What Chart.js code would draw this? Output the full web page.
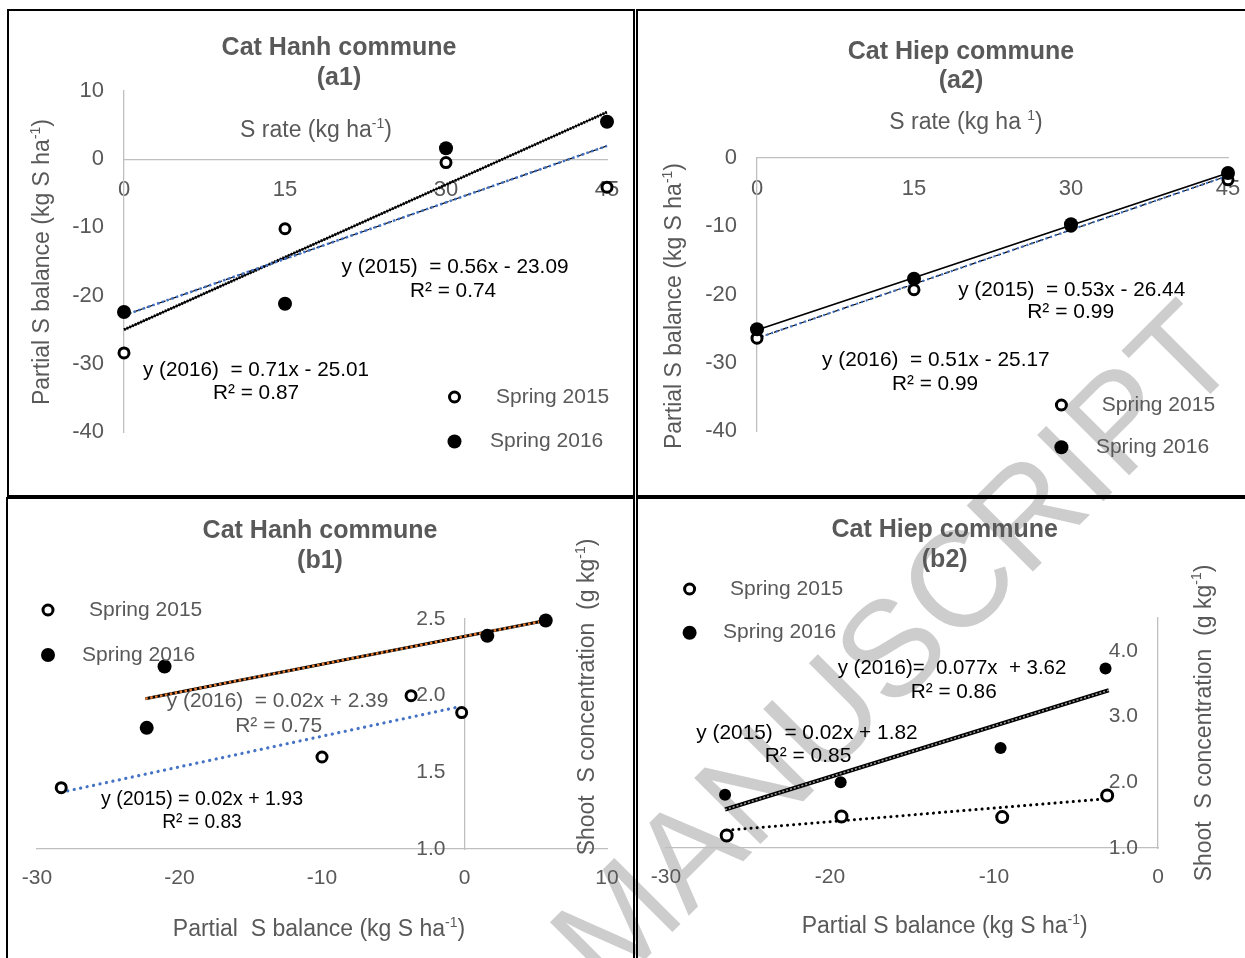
<!DOCTYPE html>
<html><head><meta charset="utf-8">
<script src="https://cdn.jsdelivr.net/npm/chart.js@4.4.1/dist/chart.umd.min.js"></script>
<style>
html,body{margin:0;padding:0;width:1245px;height:958px;overflow:hidden;background:#fff;}
#wm{position:absolute;left:893px;top:645px;transform:translate(-50%,-50%) rotate(-45deg);font-family:"Liberation Sans",Arial,sans-serif;font-size:136px;color:#cdcdcd;white-space:nowrap;z-index:0;line-height:1;}
.panel{position:absolute;border:2px solid #000;box-sizing:border-box;z-index:1;overflow:hidden;}
.panel canvas{position:absolute;left:-40px;top:0;}
</style></head>
<body>
<div id="wm">MANUSCRIPT</div>
<div class="panel" style="left:7px;top:9px;width:628px;height:488px"><canvas id="c1" width="704" height="484"></canvas></div>
<div class="panel" style="left:636px;top:9px;width:620px;height:488px"><canvas id="c2" width="696" height="484"></canvas></div>
<div class="panel" style="left:6px;top:497px;width:629px;height:470px"><canvas id="c3" width="705" height="466"></canvas></div>
<div class="panel" style="left:636px;top:497px;width:620px;height:470px"><canvas id="c4" width="696" height="466"></canvas></div>
<script>
// ---------------- DATA ----------------
const sRate = [0, 15, 30, 45];
const sRateTicks = [0, 15, 30, 45];
const balanceTicksA1 = [-40, -30, -20, -10, 0, 10];
const balanceTicksA2 = [-40, -30, -20, -10, 0];
const balanceTicksB1 = [-30, -20, -10, 0, 10];
const balanceTicksB2 = [-30, -20, -10, 0];
const concTicksB1 = [1.0, 1.5, 2.0, 2.5];
const concTicksB2 = [1.0, 2.0, 3.0, 4.0];

// (a1) Cat Hanh: partial S balance vs S rate
const a1Bal2015 = [-28.4, -10.2, -0.5, -4.1];
const a1Bal2016 = [-22.4, -21.2, 1.6, 5.5];
const a1TrendX = [0, 45];
const a1Trend2015 = [-22.9, 1.95];
const a1Trend2016 = [-25.0, 6.9];

// (a2) Cat Hiep: partial S balance vs S rate
const a2Bal2015 = [-26.4, -19.3, -10.0, -3.2];
const a2Bal2016 = [-25.1, -17.7, -9.7, -2.2];
const a2TrendX = [0, 45];
const a2Trend2015 = [-26.4, -2.6];
const a2Trend2016 = [-25.2, -2.2];

// (b1) Cat Hanh: shoot S concentration vs partial S balance
const b1Bal2015 = [-28.3, -10.0, -3.75, -0.2];
const b1Conc2015 = [1.40, 1.60, 2.00, 1.89];
const b1Bal2016 = [-22.3, -21.05, 1.6, 5.7];
const b1Conc2016 = [1.79, 2.19, 2.39, 2.49];
const b1TrendX2015 = [-28.3, -0.25];
const b1TrendY2015 = [1.37, 1.93];
const b1TrendX2016 = [-22.4, 5.7];
const b1TrendY2016 = [1.98, 2.49];

// (b2) Cat Hiep: shoot S concentration vs partial S balance
const b2Bal2015 = [-26.3, -19.3, -9.5, -3.1];
const b2Conc2015 = [1.19, 1.48, 1.47, 1.80];
const b2Bal2016 = [-26.4, -19.35, -9.6, -3.2];
const b2Conc2016 = [1.81, 2.00, 2.52, 3.73];
const b2TrendX2015 = [-26.3, -3.1];
const b2TrendY2015 = [1.27, 1.75];
const b2TrendX2016 = [-26.4, -3.0];
const b2TrendY2016 = [1.585, 3.40];

// ---------------- STYLE / HELPERS ----------------
const FAM = '"Liberation Sans", Arial, Helvetica, sans-serif';
Chart.defaults.font.family = FAM;
Chart.defaults.color = '#595959';
const GRAY = '#595959';
const AXIS = '#bfbfbf';
const BLUE = '#4472C4';
const ORANGE = '#ED7D31';

const fmtInt = v => String(v);
const fmt1 = v => Number(v).toFixed(1);

function axis(min, max, ticks, pos, pad, size, fmt, showBorder, showLabels) {
  return {
    type: 'linear', min, max, position: pos,
    grid: {display: false, drawTicks: false},
    border: {display: showBorder, color: AXIS, width: 1.3},
    afterBuildTicks: s => { s.ticks = ticks.map(v => ({value: v})); },
    ticks: {display: showLabels, padding: pad, color: GRAY, font: {size}, maxRotation: 0, minRotation: 0,
      autoSkip: false, callback: v => fmt(v)}
  };
}
function pts(xs, ys) { return xs.map((x, i) => ({x, y: ys[i]})); }
function ptSet(xs, ys, open, r) {
  return {type: 'scatter', data: pts(xs, ys), showLine: false, pointRadius: r, pointHoverRadius: r,
    pointBorderWidth: open ? 3 : 0, pointBackgroundColor: open ? '#fff' : '#000', pointBorderColor: '#000',
    clip: false, order: 0, yAxisID: 'y'};
}
function lnSet(xs, ys, color, width, dash, cap) {
  return {type: 'line', data: pts(xs, ys), showLine: true, borderColor: color, borderWidth: width,
    borderDash: dash || [], borderCapStyle: cap || 'butt', pointRadius: 0, pointHoverRadius: 0,
    fill: false, tension: 0, clip: false, order: 1, yAxisID: 'y'};
}

function drawItem(ctx, it) {
  ctx.save();
  if (it.marker) {
    ctx.beginPath();
    if (it.marker === 'open') {
      ctx.arc(it.x, it.y, 5, 0, Math.PI * 2);
      ctx.fillStyle = '#fff'; ctx.fill();
      ctx.lineWidth = 3; ctx.strokeStyle = '#000'; ctx.stroke();
    } else {
      ctx.arc(it.x, it.y, 7, 0, Math.PI * 2);
      ctx.fillStyle = '#000'; ctx.fill();
    }
    ctx.restore();
    return;
  }
  const size = it.size || 21;
  const wt = it.bold ? 'bold ' : '';
  const base = wt + size + 'px ' + FAM;
  const sup = wt + Math.round(size * 0.62) + 'px ' + FAM;
  const segs = typeof it.t === 'string' ? [{t: it.t}] : it.t;
  let total = 0;
  const ws = segs.map(s => { ctx.font = s.sup ? sup : base; const w = ctx.measureText(s.t).width; total += w; return w; });
  const sx = it.w ? it.w / total : 1;
  ctx.translate(it.x, it.y);
  if (it.rot) ctx.rotate(it.rot);
  ctx.scale(sx, 1);
  let x = it.align === 'left' ? 0 : -total / 2;
  ctx.fillStyle = it.color || GRAY;
  ctx.textBaseline = 'middle';
  ctx.textAlign = 'left';
  segs.forEach((s, i) => {
    ctx.font = s.sup ? sup : base;
    ctx.fillText(s.t, x, s.sup ? -size * 0.3 : 0);
    x += ws[i];
  });
  ctx.restore();
}

// Canvases extend 40px beyond each side of their panel (clipped by the panel),
// so the axis label paddings never push the plot area.
const EXT = 40;
function makeChart(id, content, area, xa, ya, datasets, items) {
  const cv = document.getElementById(id);
  const ox = content[0] - EXT, oy = content[1];
  const pad = {left: area[0] - ox, top: area[1] - oy, right: ox + cv.width - area[2], bottom: oy + cv.height - area[3]};
  const scales = {
    x: axis(xa.min, xa.max, xa.ticks, {y: xa.at}, xa.pad, xa.size, xa.fmt, true, true),
    y: axis(ya.min, ya.max, ya.ticks, {x: 0}, 0, ya.size, ya.fmt, true, false),
    yLab: axis(ya.min, ya.max, ya.ticks, {x: ya.labelAt}, 0, ya.size, ya.fmt, false, true)
  };
  new Chart(cv, {
    type: 'scatter',
    data: {datasets},
    options: {
      responsive: false, animation: false, devicePixelRatio: 1, events: [],
      layout: {padding: pad},
      plugins: {legend: {display: false}, tooltip: {enabled: false}, title: {display: false}},
      scales
    },
    plugins: [{id: 'annot_' + id, afterDraw(chart) {
      const ctx = chart.ctx;
      items.forEach(it => drawItem(ctx, Object.assign({}, it, {x: it.x - ox, y: it.y - oy})));
    }}]
  });
}

const balTitle = [{t: 'Partial S balance (kg S ha'}, {t: '-1', sup: true}, {t: ')'}];
const balTitleB = [{t: 'Partial  S balance (kg S ha'}, {t: '-1', sup: true}, {t: ')'}];
const concTitle = [{t: 'Shoot  S concentration  (g kg'}, {t: '-1', sup: true}, {t: ')'}];
const R90 = -Math.PI / 2;

// ---------------- (a1) ----------------  plot area (page px): left, top, right, bottom
makeChart('c1', [9, 11], [124, 91, 607, 432],
  {min: 0, max: 45, ticks: sRateTicks, at: 0, pad: 18, size: 22, fmt: fmtInt},
  {min: -40, max: 10, ticks: balanceTicksA1, labelAt: -1.86, size: 22, fmt: fmtInt},
  [ptSet(sRate, a1Bal2015, true, 5), ptSet(sRate, a1Bal2016, false, 7),
   lnSet(a1TrendX, a1Trend2015, BLUE, 2.5, [2.5, 2.5]),
   lnSet(a1TrendX, a1Trend2015, '#000', 1.2, [8, 4]),
   lnSet(a1TrendX, a1Trend2016, '#000', 1.5),
   lnSet(a1TrendX, a1Trend2016, '#000', 3, [1.5, 1.5])],
  [{t: 'Cat Hanh commune', x: 339, y: 48, size: 25, bold: true},
   {t: '(a1)', x: 339, y: 78, size: 25, bold: true},
   {t: balTitle, x: 43, y: 262, size: 23, rot: R90},
   {t: [{t: 'S rate (kg ha'}, {t: '-1', sup: true}, {t: ')'}], x: 316, y: 131, size: 23},
   {t: 'y (2015)  = 0.56x - 23.09', x: 455, y: 267, color: '#000', w: 227},
   {t: 'R² = 0.74', x: 453, y: 291, color: '#000', w: 86},
   {t: 'y (2016)  = 0.71x - 25.01', x: 256, y: 370, color: '#000', w: 226},
   {t: 'R² = 0.87', x: 256, y: 393, color: '#000', w: 86},
   {marker: 'open', x: 454.5, y: 397}, {t: 'Spring 2015', x: 496, y: 397, align: 'left'},
   {marker: 'filled', x: 454.5, y: 441.5}, {t: 'Spring 2016', x: 490, y: 441.5, align: 'left'}]);

// ---------------- (a2) ----------------
makeChart('c2', [638, 11], [757, 158, 1228, 431],
  {min: 0, max: 45, ticks: sRateTicks, at: 0, pad: 17.5, size: 22, fmt: fmtInt},
  {min: -40, max: 0, ticks: balanceTicksA2, labelAt: -1.91, size: 22, fmt: fmtInt},
  [ptSet(sRate, a2Bal2016, false, 7), ptSet(sRate, a2Bal2015, true, 5),
   lnSet(a2TrendX, a2Trend2015, BLUE, 2.2, [2, 3]),
   lnSet(a2TrendX, a2Trend2015, '#000', 1.2, [6, 3]),
   lnSet(a2TrendX, a2Trend2016, '#000', 1.8)],
  [{t: 'Cat Hiep commune', x: 961, y: 52, size: 25, bold: true},
   {t: '(a2)', x: 961, y: 81, size: 25, bold: true},
   {t: balTitle, x: 675, y: 306, size: 23, rot: R90},
   {t: [{t: 'S rate (kg ha '}, {t: '1', sup: true}, {t: ')'}], x: 966, y: 123, size: 23},
   {t: 'y (2015)  = 0.53x - 26.44', x: 1071.7, y: 290, color: '#000', w: 227},
   {t: 'R² = 0.99', x: 1070.7, y: 312.7, color: '#000', w: 87},
   {t: 'y (2016)  = 0.51x - 25.17', x: 935.8, y: 360.7, color: '#000', w: 227.6},
   {t: 'R² = 0.99', x: 935, y: 384, color: '#000', w: 86},
   {marker: 'open', x: 1061.4, y: 405}, {t: 'Spring 2015', x: 1101.8, y: 405, align: 'left'},
   {marker: 'filled', x: 1061.4, y: 447.3}, {t: 'Spring 2016', x: 1095.9, y: 447.3, align: 'left'}]);

// ---------------- (b1) ----------------
makeChart('c3', [8, 499], [37, 619, 607, 849],
  {min: -30, max: 10, ticks: balanceTicksB1, at: 1, pad: 17, size: 21, fmt: fmtInt},
  {min: 1, max: 2.5, ticks: concTicksB1, labelAt: -1.33, size: 21, fmt: fmt1},
  [ptSet(b1Bal2015, b1Conc2015, true, 5), ptSet(b1Bal2016, b1Conc2016, false, 7),
   lnSet(b1TrendX2016, b1TrendY2016, ORANGE, 2.4, [2.5, 2.5]),
   lnSet(b1TrendX2016, b1TrendY2016, '#000', 3.2),
   lnSet(b1TrendX2015, b1TrendY2015, BLUE, 3.2, [0.1, 6.5], 'round')],
  [{t: 'Cat Hanh commune', x: 320, y: 531, size: 25, bold: true},
   {t: '(b1)', x: 320, y: 561, size: 25, bold: true},
   {t: balTitleB, x: 319, y: 930, size: 23},
   {t: concTitle, x: 588, y: 697, size: 23, rot: R90},
   {t: 'y (2016)  = 0.02x + 2.39', x: 277.5, y: 701.7, w: 221.6},
   {t: 'R² = 0.75', x: 278.7, y: 726, w: 87},
   {t: 'y (2015) = 0.02x + 1.93', x: 202, y: 799.3, color: '#000', w: 202},
   {t: 'R² = 0.83', x: 202, y: 822.3, color: '#000', w: 79.6},
   {marker: 'open', x: 48, y: 610}, {t: 'Spring 2015', x: 89, y: 610, align: 'left'},
   {marker: 'filled', x: 48, y: 655}, {t: 'Spring 2016', x: 82, y: 655, align: 'left'}]);

// ---------------- (b2) ----------------
makeChart('c4', [638, 499], [666, 618, 1158, 848],
  {min: -30, max: 0, ticks: balanceTicksB2, at: 1, pad: 17, size: 21, fmt: fmtInt},
  {min: 1, max: 4.5, ticks: concTicksB2, labelAt: -1.22, size: 21, fmt: fmt1},
  [ptSet(b2Bal2015, b2Conc2015, true, 5.5), ptSet(b2Bal2016, b2Conc2016, false, 6),
   lnSet(b2TrendX2016, b2TrendY2016, '#9a9a9a', 1.6, [2, 2]),
   lnSet(b2TrendX2016, b2TrendY2016, '#000', 4.2),
   lnSet(b2TrendX2015, b2TrendY2015, '#000', 3, [0.1, 6], 'round')],
  [{t: 'Cat Hiep commune', x: 944.7, y: 530, size: 25, bold: true},
   {t: '(b2)', x: 944.7, y: 560, size: 25, bold: true},
   {t: balTitle, x: 944.7, y: 927, size: 23},
   {t: concTitle, x: 1204.5, y: 723, size: 23, rot: R90},
   {t: 'y (2016)=  0.077x  + 3.62', x: 952, y: 668.3, color: '#000', w: 228.7},
   {t: 'R² = 0.86', x: 953.7, y: 692.7, color: '#000', w: 86},
   {t: 'y (2015)  = 0.02x + 1.82', x: 807, y: 733.3, color: '#000', w: 221.3},
   {t: 'R² = 0.85', x: 808, y: 756.7, color: '#000', w: 86.6},
   {marker: 'open', x: 689.6, y: 589}, {t: 'Spring 2015', x: 730, y: 589, align: 'left'},
   {marker: 'filled', x: 689.6, y: 632.7}, {t: 'Spring 2016', x: 723, y: 632.7, align: 'left'}]);
</script>
</body></html>
